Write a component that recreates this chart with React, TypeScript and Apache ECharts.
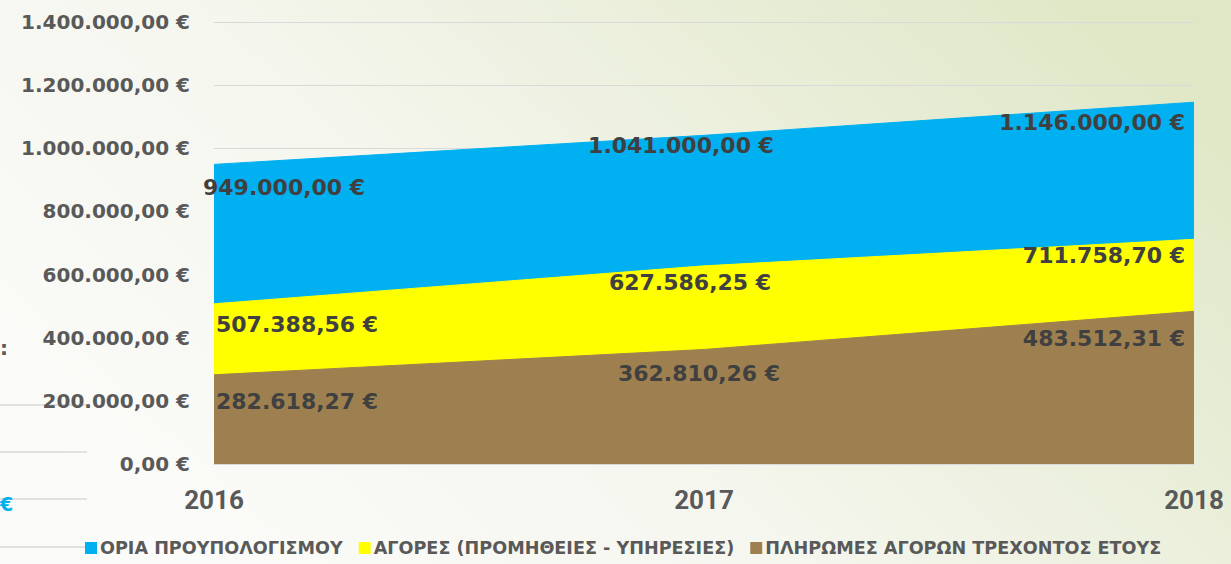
import React, { useEffect, useRef } from "react";
import * as echarts from "echarts";

const years = ["2016", "2017", "2018"];
const budgetLimits = [949000.0, 1041000.0, 1146000.0];
const purchases = [507388.56, 627586.25, 711758.7];
const payments = [282618.27, 362810.26, 483512.31];
const seriesNames = [
  "ΟΡΙΑ ΠΡΟΥΠΟΛΟΓΙΣΜΟΥ",
  "ΑΓΟΡΕΣ (ΠΡΟΜΗΘΕΙΕΣ - ΥΠΗΡΕΣΙΕΣ)",
  "ΠΛΗΡΩΜΕΣ ΑΓΟΡΩΝ ΤΡΕΧΟΝΤΟΣ ΕΤΟΥΣ",
];
const colors = ["#00b0f0", "#ffff00", "#9e8050"];

// label layout (dx, dy relative to point) per series, per year
const labelLayout = [
  [[-11, 23, "left"], [-23, 10, "center"], [-9, 20, "right"]],
  [[2, 21, "left"], [-14, 17, "center"], [-9, 16, "right"]],
  [[2, 27, "left"], [-5, 24, "center"], [-9, 27, "right"]],
];

const fmt = (v: number) => {
  const [i, d] = v.toFixed(2).split(".");
  return i.replace(/\B(?=(\d{3})+(?!\d))/g, ".") + "," + d + " €";
};

export default function App() {
  const ref = useRef<HTMLDivElement>(null);
  useEffect(() => {
    const chart = echarts.init(ref.current!, null, { renderer: "svg" });
    const all = [budgetLimits, purchases, payments];
    const font = "DejaVu Sans";
    chart.setOption({
      animation: false,
      backgroundColor: new echarts.graphic.LinearGradient(0, 0.7, 1, 0.2, [
        { offset: 0, color: "#fbfbf9" },
        { offset: 0.4, color: "#f5f6ee" },
        { offset: 1, color: "#dfe7c6" },
      ]),
      textStyle: { fontFamily: font },
      grid: { left: 214, right: 37, top: 22, bottom: 100, containLabel: false },
      legend: {
        bottom: 2,
        left: 80,
        icon: "rect",
        itemWidth: 12,
        itemHeight: 12,
        itemGap: 16,
        textStyle: { fontFamily: font, fontWeight: "bold", fontSize: 17.6, color: "#595959", padding: [0, 0, 0, -2] },
        data: seriesNames,
      },
      xAxis: {
        type: "category",
        data: years,
        boundaryGap: false,
        axisLine: { lineStyle: { color: "#d9d9d9" } },
        axisTick: { show: false },
        axisLabel: { fontFamily: "Roboto", fontWeight: "bold", fontSize: 26, color: "#595959", margin: 23 },
      },
      yAxis: {
        type: "value",
        min: 0,
        max: 1400000,
        interval: 200000,
        axisLine: { show: false },
        axisTick: { show: false },
        splitLine: { lineStyle: { color: "#d9d9d9", width: 1 } },
        axisLabel: { formatter: fmt, fontFamily: font, fontWeight: "bold", fontSize: 20, color: "#595959", margin: 24 },
      },
      graphic: [
        { type: "line", shape: { x1: 0, y1: 405, x2: 87, y2: 405 }, style: { stroke: "#d9d9d9", lineWidth: 1.5 } },
        { type: "line", shape: { x1: 0, y1: 452, x2: 87, y2: 452 }, style: { stroke: "#d9d9d9", lineWidth: 1.5 } },
        { type: "line", shape: { x1: 0, y1: 499, x2: 87, y2: 499 }, style: { stroke: "#d9d9d9", lineWidth: 1.5 } },
        { type: "line", shape: { x1: 0, y1: 547, x2: 87, y2: 547 }, style: { stroke: "#d9d9d9", lineWidth: 1.5 } },
        { type: "text", x: 0, y: 494, style: { text: "€", fill: "#00b0f0", font: "bold 19px DejaVu Sans" } },
        { type: "text", x: 0, y: 338, style: { text: ":", fill: "#595959", font: "bold 20px DejaVu Sans" } },
      ],
      series: all.map((vals, si) => ({
        name: seriesNames[si],
        type: "line",
        z: 2 + si,
        symbol: "circle",
        symbolSize: 0.1,
        itemStyle: { color: colors[si] },
        lineStyle: { color: colors[si], width: 1 },
        areaStyle: { color: colors[si], opacity: 1 },
        data: vals.map((v, i) => {
          const [dx, dy, align] = labelLayout[si][i] as [number, number, string];
          return {
            value: v,
            label: { show: true, position: "inside", offset: [dx, dy], align },
          };
        }),
        label: {
          show: true,
          formatter: (p: any) => fmt(p.value),
          fontFamily: font,
          fontWeight: "bold",
          fontSize: 22,
          color: "#404040",
        },
        emphasis: { disabled: true },
      })),
    });
    return () => chart.dispose();
  }, []);
  return <div ref={ref} style={{ position: "absolute", left: 0, top: 0, width: 1231, height: 564 }} />;
}
